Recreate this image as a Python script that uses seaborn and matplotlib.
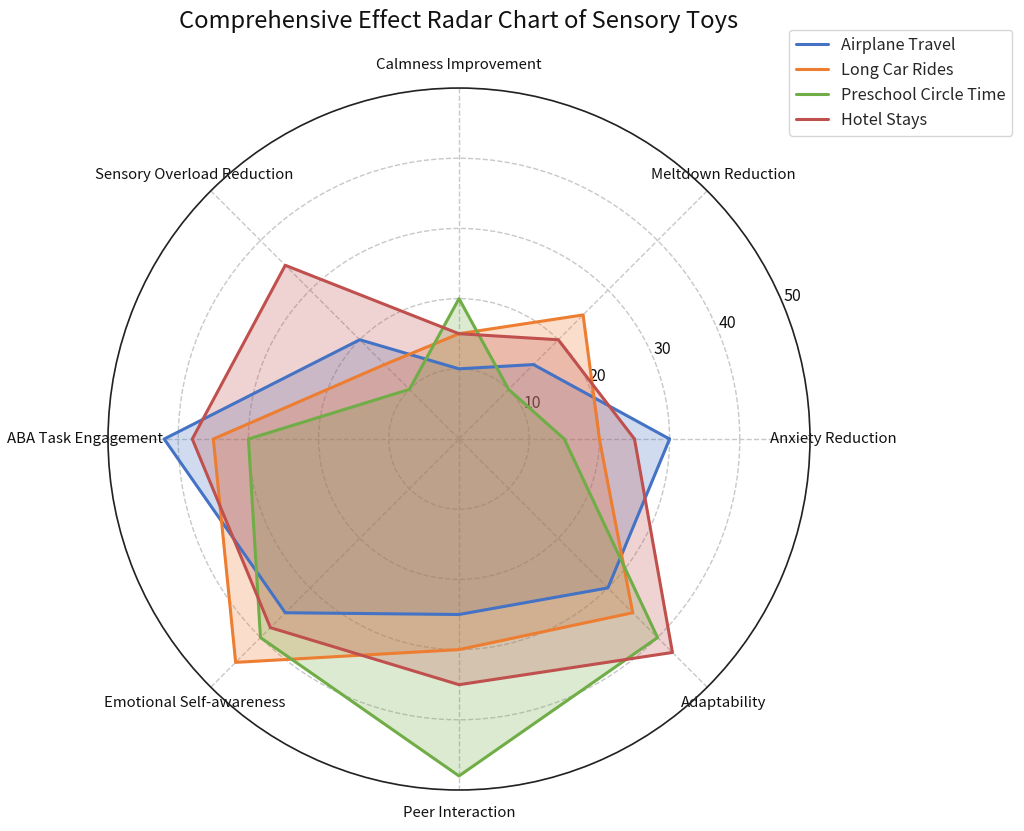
import numpy as np
import seaborn as sns
import matplotlib.pyplot as plt

categories = ['Anxiety Reduction', 'Meltdown Reduction', 'Calmness Improvement',
              'Sensory Overload Reduction', 'ABA Task Engagement',
              'Emotional Self-awareness', 'Peer Interaction', 'Adaptability']

airplane = [30, 15, 10, 20, 42, 35, 25, 30]
car_rides = [20, 25, 15, 15, 35, 45, 30, 35]
preschool = [15, 10, 20, 10, 30, 40, 48, 40]
hotel = [25, 20, 15, 35, 38, 38, 35, 43]

series_names = ['Airplane Travel', 'Long Car Rides', 'Preschool Circle Time', 'Hotel Stays']
series_values = [airplane, car_rides, preschool, hotel]
colors = ['#4472c4', '#ed7d31', '#70ad47', '#c0504d']

sns.set_style('white')
plt.rcParams['font.family'] = ['Noto Sans CJK SC', 'DejaVu Sans']

# Winkel fuer jede Kategorie, Polygon schliessen
angles = np.linspace(0, 2 * np.pi, len(categories), endpoint=False)
angles_closed = np.concatenate([angles, angles[:1]])

fig = plt.figure(figsize=(10.24, 8.31), dpi=100)
ax = fig.add_axes([0.1055, 0.0493, 0.6855, 0.8448], polar=True)

for name, vals, col in zip(series_names, series_values, colors):
    v = np.concatenate([vals, vals[:1]])
    ax.plot(angles_closed, v, color=col, linewidth=2.2, label=name)
    ax.fill(angles_closed, v, color=col, alpha=0.25)

ax.set_ylim(0, 50)
ax.set_yticks([10, 20, 30, 40, 50])
ax.set_yticklabels(['10', '20', '30', '40', '50'], fontsize=11.5, color='#111111')
ax.set_rlabel_position(22.5)
ax.set_xticks(angles)
ax.set_xticklabels(categories, fontsize=10.8, color='#111111')
ax.tick_params(axis='x', pad=6)
ax.grid(True, linestyle='--', color='#c8c8c8', linewidth=1)
ax.spines['polar'].set_color('#222222')
ax.spines['polar'].set_linewidth(1.2)

fig.text(0.448, 0.975, 'Comprehensive Effect Radar Chart of Sensory Toys',
         ha='center', va='center', fontsize=17.1, color='#111111')

ax.legend(loc='upper right', bbox_to_anchor=(1.3, 1.094),
          fontsize=11.7, frameon=True, handlelength=2.0)

plt.savefig('out.png', dpi=100)
